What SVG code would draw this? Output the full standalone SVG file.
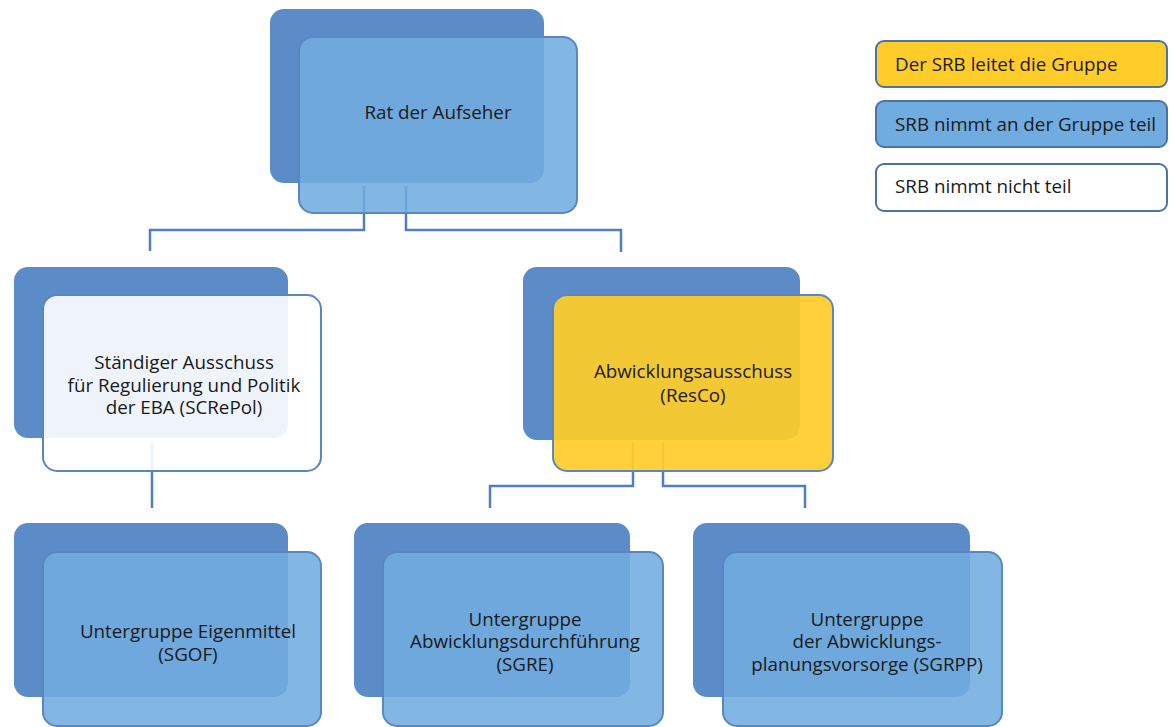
<svg xmlns="http://www.w3.org/2000/svg" width="1173" height="727" viewBox="0 0 1173 727">
<style>
.back{fill:#5b8cc8}
.front{fill:#70acdf;fill-opacity:0.87;stroke:#5a86c4;stroke-width:2}
.frontW{fill:#ffffff;fill-opacity:0.9;stroke:#5a86c4;stroke-width:2}
.frontY{fill:#ffcc2a;fill-opacity:0.93;stroke:#5a86c4;stroke-width:2}
.conn{fill:none;stroke:#4f7fbd;stroke-width:2.5}
text{font-family:"Open Sans","Noto Sans",sans-serif;font-size:18.8px;fill:#1a1a1a}
.c{text-anchor:middle}
.leg{stroke:#4a74a8;stroke-width:2}
</style>
<rect width="1173" height="727" fill="#ffffff"/>
<g id="back-shapes">
<rect class="back" x="270" y="9" width="274" height="174" rx="14"/>
<rect class="back" x="14" y="267" width="274" height="171" rx="14"/>
<rect class="back" x="523" y="267" width="277" height="173" rx="14"/>
<rect class="back" x="14" y="523" width="274" height="174" rx="14"/>
<rect class="back" x="354" y="523" width="276" height="174" rx="14"/>
<rect class="back" x="693" y="523" width="277" height="174" rx="14"/>
</g>
<g id="connectors">
<polyline class="conn" points="364,186 364,230 150,230 150,251"/>
<polyline class="conn" points="406,186 406,230 621,230 621,252"/>
<polyline class="conn" points="152,443 152,508"/>
<polyline class="conn" points="633,443 633,486 490,486 490,508"/>
<polyline class="conn" points="663,443 663,486 805,486 805,508"/>
</g>
<g id="node-rat">
<rect class="front" x="299" y="37" width="278" height="176" rx="14"/>
<text class="c" x="438" y="119">Rat der Aufseher</text>
</g>
<g id="node-screpol">
<rect class="frontW" x="43" y="295" width="278" height="176" rx="14"/>
<text class="c" x="184" y="369">Ständiger Ausschuss</text>
<text class="c" x="184" y="392">für Regulierung und Politik</text>
<text class="c" x="184" y="414">der EBA (SCRePol)</text>
</g>
<g id="node-resco">
<rect class="frontY" x="553" y="295" width="280" height="176" rx="14"/>
<text class="c" x="693" y="378">Abwicklungsausschuss</text>
<text class="c" x="693" y="402">(ResCo)</text>
</g>
<g id="node-sgof">
<rect class="front" x="43" y="552" width="278" height="174" rx="14"/>
<text class="c" x="188" y="638">Untergruppe Eigenmittel</text>
<text class="c" x="188" y="661">(SGOF)</text>
</g>
<g id="node-sgre">
<rect class="front" x="383" y="552" width="280" height="174" rx="14"/>
<text class="c" x="525" y="626">Untergruppe</text>
<text class="c" x="525" y="648">Abwicklungsdurchführung</text>
<text class="c" x="525" y="671">(SGRE)</text>
</g>
<g id="node-sgrpp">
<rect class="front" x="723" y="552" width="279" height="174" rx="14"/>
<text class="c" x="867" y="626">Untergruppe</text>
<text class="c" x="867" y="648">der Abwicklungs-</text>
<text class="c" x="867" y="671">planungsvorsorge (SGRPP)</text>
</g>
<g id="legend">
<g id="legend-lead">
<rect class="leg" x="876" y="41" width="291" height="46" rx="8" fill="#ffcc2a"/>
<text x="895" y="71">Der SRB leitet die Gruppe</text>
</g>
<g id="legend-participates">
<rect class="leg" x="876" y="101" width="291" height="46" rx="8" fill="#70acdf"/>
<text x="895" y="131">SRB nimmt an der Gruppe teil</text>
</g>
<g id="legend-none">
<rect class="leg" x="876" y="164" width="291" height="47" rx="8" fill="#ffffff"/>
<text x="895" y="193">SRB nimmt nicht teil</text>
</g>
</g>
</svg>
